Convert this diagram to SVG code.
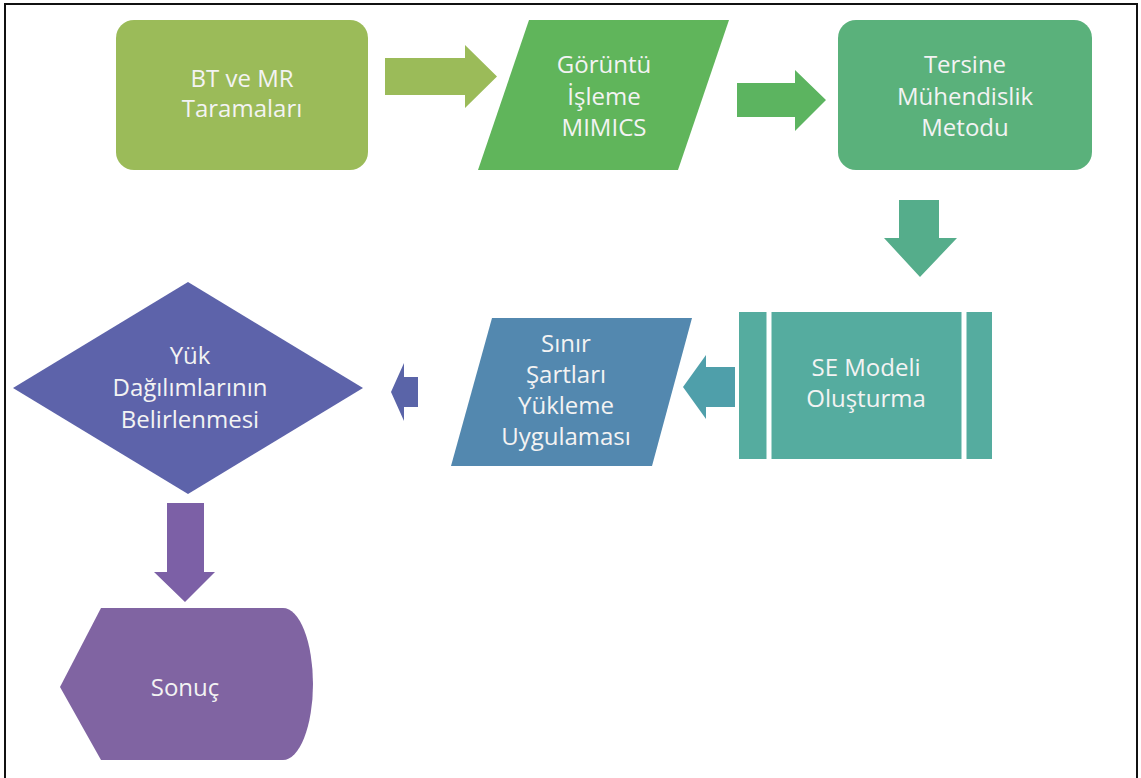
<svg xmlns="http://www.w3.org/2000/svg" width="1141" height="778" viewBox="0 0 1141 778">
<style>
  text { font-family: "Open Sans", "Liberation Sans", sans-serif; fill: #f3f3f3; text-anchor: middle; font-size: 24px; }
  .frame { fill: none; stroke: #111; stroke-width: 2; }
</style>
<rect x="0" y="0" width="1141" height="778" fill="#ffffff"/>
<path class="frame" d="M5,778 L5,4 L1137,4 L1137,778"/>

<g id="connectors">
  <polygon id="a1" fill="#9bbb59" points="385,58 465,58 465,45 497,76.5 465,108 465,95 385,95"/>
  <polygon id="a2" fill="#5cb460" points="737,83 795,83 795,70 826,100 795,131 795,117 737,117"/>
  <polygon id="a3" fill="#55ad8b" points="899,200 939,200 939,238 957,238 920,277 884,238 899,238"/>
  <polygon id="a4" fill="#4f9faa" points="735,367 706,367 706,355 683,387 706,419 706,407 735,407"/>
  <polygon id="a5" fill="#5a64a8" points="418,377 404,377 404,363 391,392 404,421 404,407 418,407"/>
  <polygon id="a6" fill="#7c60a6" points="167,503 204,503 204,572 215,572 185,602 154,572 167,572"/>
</g>

<g id="n1">
  <rect x="116" y="20" width="252" height="150" rx="18" fill="#9bbb59"/>
  <text x="242" y="87" font-size="23.5">BT ve MR</text>
  <text x="242" y="117" font-size="23.5">Taramaları</text>
</g>

<g id="n2">
  <polygon points="529,20 729,20 678,170 478,170" fill="#60b55b"/>
  <text x="604" y="73" font-size="25">Görüntü</text>
  <text x="604" y="105" font-size="25">İşleme</text>
  <text x="604" y="136" font-size="25">MIMICS</text>
</g>

<g id="n3">
  <rect x="838" y="20" width="254" height="150" rx="18" fill="#5ab17b"/>
  <text x="965" y="73" font-size="25">Tersine</text>
  <text x="965" y="105" font-size="25">Mühendislik</text>
  <text x="965" y="136" font-size="25">Metodu</text>
</g>

<g id="n4">
  <rect x="739" y="312" width="253" height="147" fill="#55ac9f"/>
  <line x1="769" y1="312" x2="769" y2="459" stroke="#ffffff" stroke-width="5"/>
  <line x1="964" y1="312" x2="964" y2="459" stroke="#ffffff" stroke-width="5"/>
  <text x="866" y="376" font-size="23">SE Modeli</text>
  <text x="866" y="407" font-size="23">Oluşturma</text>
</g>

<g id="n5">
  <polygon points="492,318 692,318 652,466 451,466" fill="#5388af"/>
  <text x="566" y="352">Sınır</text>
  <text x="566" y="383">Şartları</text>
  <text x="566" y="414">Yükleme</text>
  <text x="566" y="445">Uygulaması</text>
</g>

<g id="n6">
  <polygon points="188,282 363,388 188,494 13,388" fill="#5d63aa"/>
  <text x="190" y="364" font-size="25">Yük</text>
  <text x="190" y="396" font-size="25">Dağılımlarının</text>
  <text x="190" y="428" font-size="25">Belirlenmesi</text>
</g>

<g id="n7">
  <path d="M60,687 L101,608 L283,608 A30,76 0 0 1 283,760 L101,760 Z" fill="#8064a2"/>
  <text x="185" y="696" font-size="25">Sonuç</text>
</g>
</svg>
